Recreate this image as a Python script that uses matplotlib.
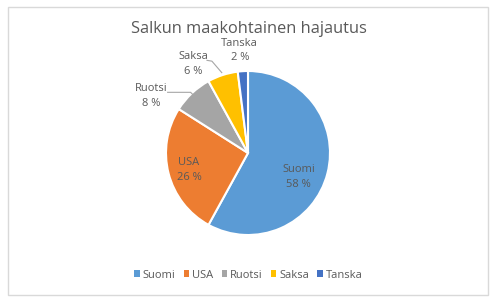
import matplotlib as mpl
mpl.use('Agg')
import matplotlib.pyplot as plt
from matplotlib.patches import Rectangle, Patch

plt.rcParams['font.family'] = ['Open Sans', 'DejaVu Sans']

maat = ['Suomi', 'USA', 'Ruotsi', 'Saksa', 'Tanska']
osuudet = [58, 26, 8, 6, 2]
varit = ['#5B9BD5', '#ED7D31', '#A5A5A5', '#FFC000', '#4472C4']
teksti = '#595959'

fig = plt.figure(figsize=(4.97, 3.03), dpi=100)

# outer frame like the excel chart area
fig.patches.append(Rectangle((8/497, 8/303), 480/497, 288/303, transform=fig.transFigure,
                             fill=False, edgecolor='#d9d9d9', linewidth=1))

# pie center ~ (248,153) px, radius ~82 px
ax = fig.add_axes([(248-82)/497, (303-153-82)/303, 164/497, 164/303])
wedges, _ = ax.pie(osuudet, colors=varit, startangle=90, counterclock=False,
                   wedgeprops=dict(edgecolor='white', linewidth=1.5))
ax.set_xlim(-1, 1)
ax.set_ylim(-1, 1)
ax.set_aspect('equal')
ax.axis('off')

# label spots (fractions of radius)
paikat = [(0.62, -0.29), (-0.72, -0.21), (-1.18, 0.70), (-0.67, 1.09), (-0.10, 1.25)]
for nimi, arvo, (x, y) in zip(maat, osuudet, paikat):
    ax.text(x, y, f'{nimi}\n{arvo} %', ha='center', va='center', fontsize=8,
            color=teksti, linespacing=1.5, clip_on=False)

# leader lines for Ruotsi and Saksa
ax.plot([-0.98, -0.70, -0.67], [0.74, 0.74, 0.71], color='#a6a6a6', lw=0.8, clip_on=False)
ax.plot([-0.50, -0.44, -0.32], [1.13, 1.12, 0.98], color='#a6a6a6', lw=0.8, clip_on=False)

fig.text(0.5, 1 - 29/303, 'Salkun maakohtainen hajautus', ha='center', va='center',
         fontsize=11.8, color=teksti)

kahvat = [Patch(facecolor=c, edgecolor='none') for c in varit]
fig.legend(kahvat, maat, loc='center', bbox_to_anchor=(0.5, 1 - 275/303), ncol=5,
           frameon=False, fontsize=8, labelcolor=teksti, handlelength=0.5,
           handleheight=0.5, handletextpad=0.25, columnspacing=0.75)

plt.savefig('out.png', dpi=100)
